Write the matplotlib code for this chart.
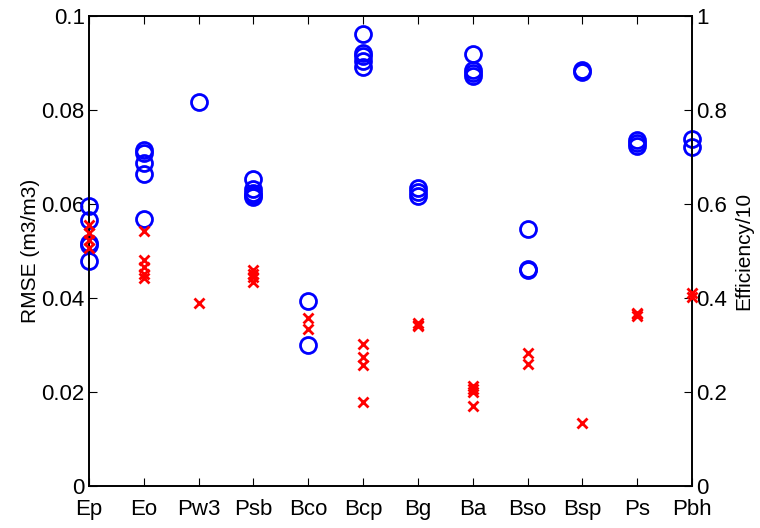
import numpy as np
import matplotlib
matplotlib.use('Agg')
import matplotlib.pyplot as plt

plt.rcParams['font.family'] = ['Liberation Sans', 'DejaVu Sans']

# categories along x
cats = ['Ep', 'Eo', 'Pw3', 'Psb', 'Bco', 'Bcp', 'Bg', 'Ba', 'Bso', 'Bsp', 'Ps', 'Pbh']

# RMSE (m3/m3), blue circles, left axis
rmse = [
    [0.0596, 0.0566, 0.0516, 0.0512, 0.0479],
    [0.0715, 0.0709, 0.0686, 0.0664, 0.0568],
    [0.0816],
    [0.0653, 0.0631, 0.0624, 0.0619, 0.0614],
    [0.0393, 0.0300],
    [0.0962, 0.0921, 0.0914, 0.0903, 0.0892],
    [0.0633, 0.0625, 0.0617],
    [0.0919, 0.0885, 0.0878, 0.0871],
    [0.0546, 0.0462, 0.0459],
    [0.0884, 0.0880],
    [0.0735, 0.0729, 0.0723],
    [0.0738, 0.0722],
]

# Efficiency/10, red crosses, right axis
eff = [
    [0.555, 0.538, 0.523, 0.506],
    [0.542, 0.480, 0.465, 0.452, 0.442],
    [0.390],
    [0.460, 0.450, 0.444, 0.433],
    [0.357, 0.335],
    [0.302, 0.275, 0.257, 0.178],
    [0.346, 0.343, 0.340],
    [0.213, 0.206, 0.199, 0.170],
    [0.283, 0.260],
    [0.135],
    [0.368, 0.365, 0.362],
    [0.410, 0.402],
]

fig = plt.figure(figsize=(7.6, 5.28), dpi=100)
ax = fig.add_axes([0.117, 0.0795, 0.7935, 0.8905])
ax2 = ax.twinx()

xpos = np.arange(1, len(cats) + 1)
for i, vals in enumerate(rmse):
    ax.plot([xpos[i]] * len(vals), vals, linestyle='none', marker='o',
            markersize=11.5, markerfacecolor='none', markeredgecolor='b',
            markeredgewidth=2, clip_on=False, zorder=3)
for i, vals in enumerate(eff):
    ax2.plot([xpos[i]] * len(vals), vals, linestyle='none', marker='x',
             markersize=7, color='r', markeredgewidth=2, clip_on=False, zorder=3)

ax.set_xlim(1, 12)
ax.set_ylim(0, 0.1)
ax2.set_ylim(0, 1)
ax.set_xticks(xpos)
ax.set_xticklabels(cats)
ax.set_yticks([0, 0.02, 0.04, 0.06, 0.08, 0.1])
ax.set_yticklabels(['0', '0.02', '0.04', '0.06', '0.08', '0.1'])
ax2.set_yticks([0, 0.2, 0.4, 0.6, 0.8, 1])
ax2.set_yticklabels(['0', '0.2', '0.4', '0.6', '0.8', '1'])

ax.tick_params(axis='x', direction='in', length=6, labelsize=16, pad=9, top=True)
ax.tick_params(axis='y', direction='in', length=6, labelsize=16, pad=3)
ax2.tick_params(axis='y', direction='in', length=6, labelsize=16, pad=3)

ax.set_ylabel('RMSE (m3/m3)', fontsize=15, labelpad=1)
ax2.set_ylabel('Efficiency/10', fontsize=15, labelpad=5)

for a in (ax, ax2):
    for s in a.spines.values():
        s.set_linewidth(1.2)

fig.savefig('out.png', dpi=100)
